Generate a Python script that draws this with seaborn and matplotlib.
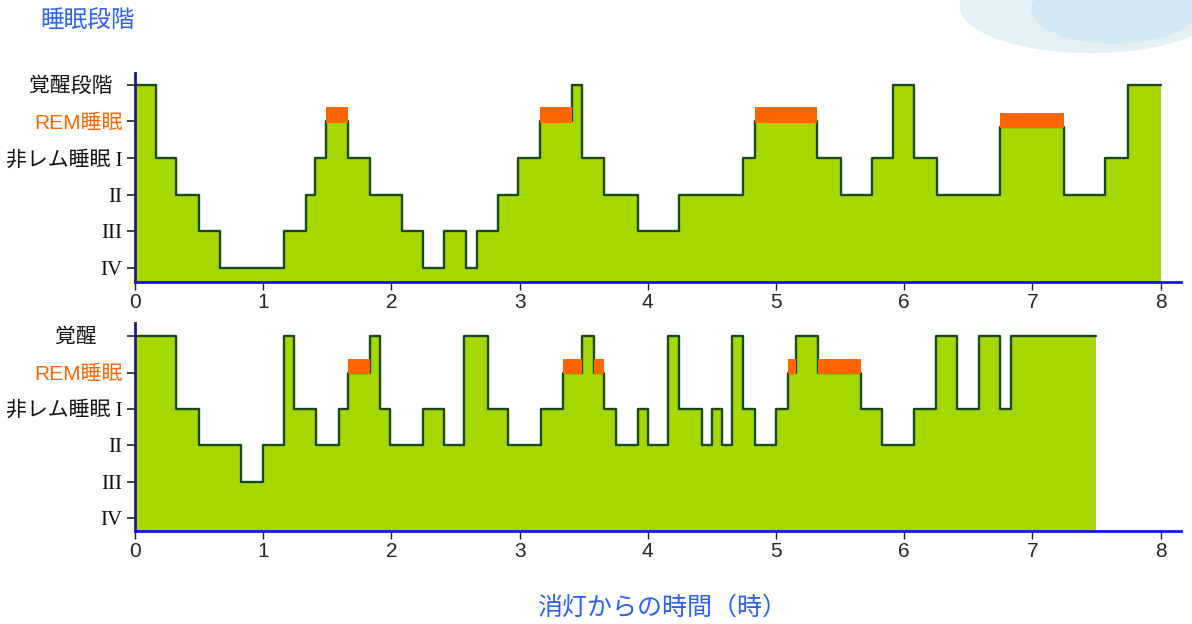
import numpy as np
import pandas as pd
import matplotlib
matplotlib.use('Agg')
import matplotlib.pyplot as plt
from matplotlib.patches import Ellipse
import seaborn as sns

# stage levels: 1=IV, 2=III, 3=II, 4=I, 5=REM, 6=awake
TOP_TIMES = [0, 0.16, 0.32, 0.50, 0.66, 1.16, 1.33, 1.40, 1.49, 1.66,
             1.83, 2.08, 2.25, 2.41, 2.58, 2.67, 2.83, 2.99, 3.16, 3.41,
             3.49, 3.66, 3.92, 4.24, 4.74, 4.84, 5.32, 5.51, 5.75, 5.91,
             6.08, 6.26, 6.75, 7.25, 7.57, 7.75]
TOP_LEVELS = [6, 4, 3, 2, 1, 2, 3, 4, 5, 4,
              3, 2, 1, 2, 1, 2, 3, 4, 5, 6,
              4, 3, 2, 3, 4, 5, 4, 3, 4, 6,
              4, 3, 4.85, 3, 4, 6]
TOP_END = 8.0

BOT_TIMES = [0, 0.32, 0.50, 0.83, 1.0, 1.16, 1.24, 1.41, 1.59, 1.66,
             1.83, 1.91, 1.99, 2.25, 2.41, 2.57, 2.75, 2.91, 3.17, 3.34,
             3.49, 3.58, 3.66, 3.75, 3.92, 4.0, 4.16, 4.24, 4.42, 4.50,
             4.58, 4.66, 4.74, 4.84, 5.0, 5.09, 5.16, 5.33, 5.66, 5.83,
             6.08, 6.25, 6.41, 6.58, 6.75, 6.83]
BOT_LEVELS = [6, 4, 3, 2, 3, 6, 4, 3, 4, 5,
              6, 4, 3, 4, 3, 6, 4, 3, 4, 5,
              6, 5, 4, 3, 4, 3, 6, 4, 3, 4,
              3, 6, 4, 3, 4, 5, 6, 5, 4, 3,
              4, 6, 4, 6, 4, 6]
BOT_END = 7.5

STAGE_TICKS = [1, 2, 3, 4, 5, 6]
TOP_LABELS = ['IV', 'III', 'II', '非レム睡眠 I', 'REM睡眠', '覚醒段階  ']
BOT_LABELS = ['IV', 'III', 'II', '非レム睡眠 I', 'REM睡眠', '覚醒\u3000 ']
X_TICKS = [0, 1, 2, 3, 4, 5, 6, 7, 8]

GREEN = '#a5d800'
LINE = '#174a17'
ORANGE = '#ff6600'
BLUE_TXT = '#2a62f0'

sns.set_theme(style='white')
plt.rcParams['font.family'] = ['Liberation Sans', 'Noto Sans CJK JP', 'DejaVu Sans']

fig = plt.figure(figsize=(11.92, 6.24), dpi=100)
ax_top = fig.add_axes([0.1133, 0.548, 0.8775, 0.335])
ax_bot = fig.add_axes([0.1133, 0.149, 0.8775, 0.333])

# watercolour blob top right
fig.patches.append(Ellipse((0.915, 0.99), 0.22, 0.15, transform=fig.transFigure,
                           facecolor='#e3f0f6', edgecolor='none'))
fig.patches.append(Ellipse((0.935, 0.985), 0.14, 0.11, transform=fig.transFigure,
                           facecolor='#d5e9f2', edgecolor='none'))


def draw_hypnogram(ax, times, levels, end, labels, ylim):
    t = list(times) + [end]
    lv = list(levels) + [levels[-1]]
    df = pd.DataFrame({'time': t, 'stage': lv})
    ax.fill_between(df['time'], df['stage'], ylim[0], step='post',
                    color=GREEN, linewidth=0, zorder=1)
    sns.lineplot(data=df, x='time', y='stage', ax=ax, estimator=None, sort=False,
                 drawstyle='steps-post', color=LINE, linewidth=1.7, zorder=2)
    # REM bars
    for i, v in enumerate(levels):
        if 4.8 <= v <= 5.2:
            ax.bar(t[i], 0.41, width=t[i + 1] - t[i], bottom=v - 0.03,
                   align='edge', color=ORANGE, linewidth=0, zorder=3)

    ax.set_xlim(0, 8.16)
    ax.set_ylim(*ylim)
    ax.set_xlabel('')
    ax.set_ylabel('')
    ax.set_xticks(X_TICKS)
    ax.set_xticklabels([str(x) for x in X_TICKS], fontsize=15,
                       family=['Liberation Sans'])
    ax.set_yticks(STAGE_TICKS)
    ax.set_yticklabels(labels, fontsize=15)
    for lab in ax.get_yticklabels():
        if 'REM' in lab.get_text():
            lab.set_color(ORANGE)
            lab.set_family(['Liberation Sans', 'Noto Sans CJK JP'])
        else:
            lab.set_color('#111111')
            lab.set_family(['Liberation Serif', 'Noto Sans CJK JP'])
    ax.tick_params(axis='y', direction='out', length=6, width=1.2,
                   color='#222222', pad=3, left=True)
    ax.tick_params(axis='x', direction='out', length=6, width=1.0,
                   color='#222222', pad=2, bottom=True)
    for s in ['top', 'right']:
        ax.spines[s].set_visible(False)
    ax.spines['left'].set_color('#1c1c7a')
    ax.spines['left'].set_linewidth(2)
    ax.spines['bottom'].set_color('#1515f0')
    ax.spines['bottom'].set_linewidth(2)
    ax.set_facecolor('none')


draw_hypnogram(ax_top, TOP_TIMES, TOP_LEVELS, TOP_END, TOP_LABELS, (0.62, 6.32))
draw_hypnogram(ax_bot, BOT_TIMES, BOT_LEVELS, BOT_END, BOT_LABELS, (0.64, 6.36))

fig.text(0.034, 0.965, '睡眠段階', color=BLUE_TXT, fontsize=17, va='center',
         ha='left', family=['Noto Sans CJK JP'])
fig.text(0.555, 0.026, '消灯からの時間（時）', color=BLUE_TXT, fontsize=18,
         va='center', ha='center', family=['Noto Sans CJK JP'])

fig.savefig('out.png', dpi=100)
